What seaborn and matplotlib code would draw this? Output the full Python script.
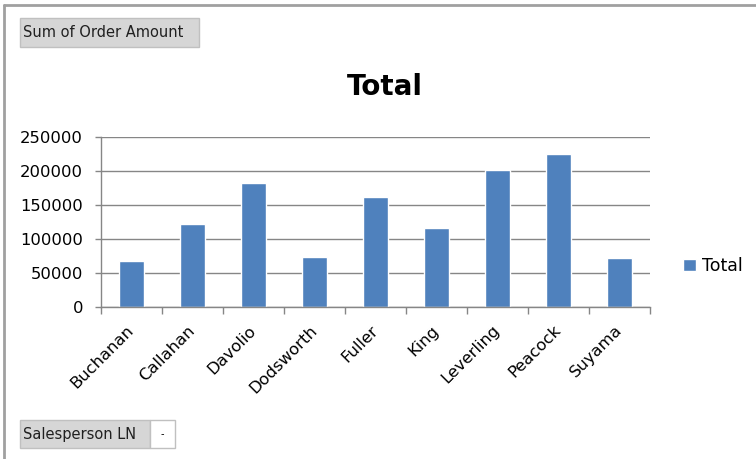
import matplotlib
matplotlib.use("Agg")
import matplotlib.pyplot as plt
import seaborn as sns
from matplotlib.lines import Line2D
from matplotlib.patches import Rectangle

# --- データ ---
salespeople = ["Buchanan", "Callahan", "Davolio", "Dodsworth", "Fuller",
               "King", "Leverling", "Peacock", "Suyama"]
totals = [67700, 122500, 182300, 74000, 161800, 116200, 201000, 225500, 71600]
y_ticks = [0, 50000, 100000, 150000, 200000, 250000]

BAR = "#4F81BD"
GRID = "#868686"

sns.set_theme(style="white")
plt.rcParams["font.family"] = ["DejaVu Sans"]
plt.rcParams["text.color"] = "black"
plt.rcParams["xtick.color"] = "black"
plt.rcParams["ytick.color"] = "black"

W, H = 756, 459
fig = plt.figure(figsize=(W / 100, H / 100), dpi=100)
ax = fig.add_axes([101 / W, 1 - 307 / H, (650 - 101) / W, (307 - 137) / H])

sns.barplot(x=salespeople, y=totals, color=BAR, width=0.4, saturation=1,
            label="Total", ax=ax)

ax.set_xlim(-0.5, len(salespeople) - 0.5)
ax.set_ylim(0, 250000)
ax.set_yticks(y_ticks)
ax.set_yticklabels([str(v) for v in y_ticks], fontsize=11.8)
ax.yaxis.grid(True, color=GRID, linewidth=1)
ax.set_axisbelow(True)
ax.set_xlabel("")
ax.set_ylabel("")

# x 目盛はカテゴリの境界に
ax.set_xticks([i - 0.5 for i in range(len(salespeople) + 1)], minor=True)
ax.set_xticks(range(len(salespeople)))
ax.set_xticklabels(salespeople, rotation=45, ha="right", va="center",
                   rotation_mode="anchor", fontsize=11.8)
ax.tick_params(axis="x", which="major", length=0, pad=15)
ax.tick_params(axis="x", which="minor", length=5, color=GRID, width=1,
               direction="out", bottom=True)
ax.tick_params(axis="y", length=4, color=GRID, width=1, pad=9, left=True,
               labelcolor="black")
ax.tick_params(axis="x", labelcolor="black")

for s in ["top", "right"]:
    ax.spines[s].set_visible(False)
for s in ["left", "bottom"]:
    ax.spines[s].set_color(GRID)
    ax.spines[s].set_linewidth(1)

if ax.legend_:
    ax.legend_.remove()
handles, labels = ax.get_legend_handles_labels()
fig.legend(handles[:1], labels[:1], loc="center left",
           bbox_to_anchor=(667 / W, 1 - 266 / H), frameon=False,
           handlelength=0.75, handleheight=0.75, handletextpad=0.35,
           fontsize=12.5, labelcolor="black")

fig.text(385 / W, 1 - 87 / H, "Total", ha="center", va="center",
         fontsize=20, fontweight="bold", color="black")

# 外枠（上と左）
fig.add_artist(Line2D([4 / W, 1], [1 - 5 / H, 1 - 5 / H], color="#a0a0a0", lw=2))
fig.add_artist(Line2D([4 / W, 4 / W], [0, 1 - 5 / H], color="#a0a0a0", lw=2))

# フィールドボタン
def button(x0, y0, x1, y1, text):
    fig.add_artist(Rectangle((x0 / W, 1 - y1 / H), (x1 - x0) / W, (y1 - y0) / H,
                             facecolor="#d6d6d6", edgecolor="#c0c0c0", lw=1,
                             transform=fig.transFigure))
    fig.text((x0 + 3) / W, 1 - (y0 + y1) / 2 / H, text, ha="left", va="center",
             fontsize=10.5, color="#202020")


button(20, 18, 199, 47, "Sum of Order Amount")
button(20, 420, 150, 448, "Salesperson LN")
fig.add_artist(Rectangle((150 / W, 1 - 448 / H), 25 / W, 28 / H,
                         facecolor="white", edgecolor="#c0c0c0", lw=1,
                         transform=fig.transFigure))
fig.text(162 / W, 1 - 434 / H, "-", ha="center", va="center", fontsize=7)

fig.savefig("out.png", dpi=100)
